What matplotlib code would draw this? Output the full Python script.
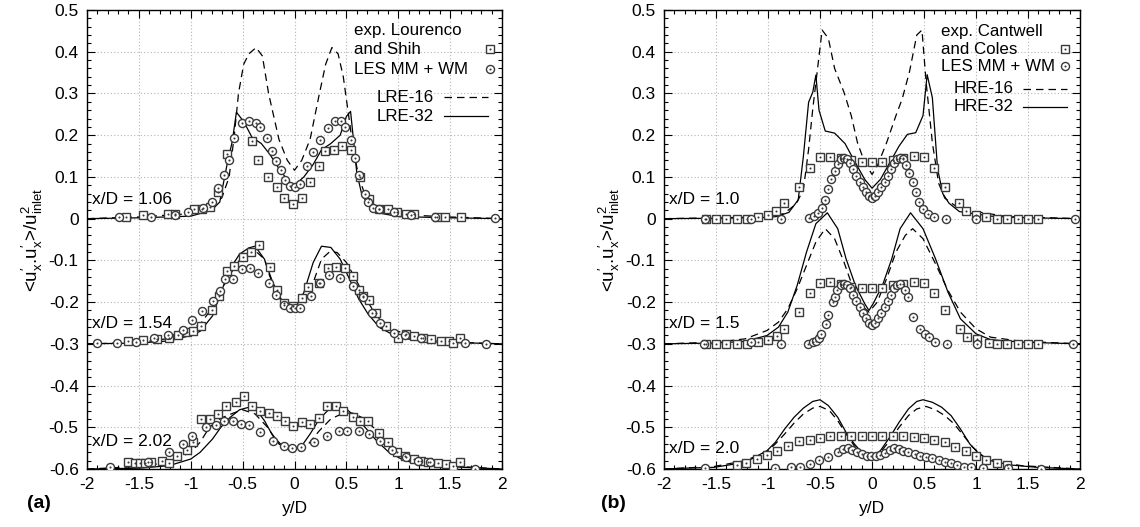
import matplotlib
matplotlib.use("Agg")
import matplotlib.pyplot as plt
from matplotlib.ticker import MultipleLocator, FuncFormatter

plt.rcParams['font.family'] = ['Liberation Sans', 'DejaVu Sans']
plt.rcParams['mathtext.fontset'] = 'custom'
plt.rcParams['mathtext.rm'] = 'Liberation Sans'
plt.rcParams['mathtext.it'] = 'Liberation Sans'
plt.rcParams['axes.unicode_minus'] = False

# vertical shift of each station (x/D) in both panels
offsets = [0.0, -0.3, -0.6]

# ---------------- panel (a) : LRE ----------------
a_stations = ["x/D = 1.06", "x/D = 1.54", "x/D = 2.02"]

# x/D = 1.06
a1_d_x = [-2.0, -1.5, -1.0, -0.85, -0.7, -0.63, -0.58, -0.54, -0.49, -0.44, -0.37, -0.31, -0.25, -0.15, -0.07, 0.0,
          0.07, 0.15, 0.24, 0.3, 0.36, 0.42, 0.47, 0.52, 0.57, 0.62, 0.68, 0.76, 0.85, 1.0, 1.5, 2.0]
a1_d_y = [0.0, 0.004, 0.012, 0.02, 0.05, 0.1, 0.2, 0.3, 0.37, 0.395, 0.41, 0.39, 0.3, 0.19, 0.14, 0.116,
          0.14, 0.19, 0.3, 0.37, 0.41, 0.395, 0.34, 0.25, 0.16, 0.1, 0.056, 0.032, 0.018, 0.01, 0.004, 0.0]
a1_s_x = [-2.0, -1.5, -1.0, -0.8, -0.72, -0.65, -0.6, -0.56, -0.49, -0.41, -0.32, -0.24, -0.15, -0.06, 0.0,
          0.09, 0.18, 0.26, 0.35, 0.44, 0.5, 0.54, 0.57, 0.6, 0.65, 0.74, 0.85, 1.0, 1.5, 2.0]
a1_s_y = [0.0, 0.002, 0.006, 0.02, 0.04, 0.13, 0.185, 0.255, 0.233, 0.195, 0.18, 0.155, 0.12, 0.09, 0.08,
          0.1, 0.13, 0.165, 0.18, 0.2, 0.245, 0.257, 0.185, 0.11, 0.056, 0.026, 0.012, 0.005, 0.002, 0.0]
a1_e_x = [-1.62, -1.46, -1.22, -1.15, -0.97, -0.89, -0.81, -0.74, -0.65, -0.41, -0.35, -0.26, -0.17, -0.10, -0.01,
          0.07, 0.15, 0.24, 0.29, 0.38, 0.46, 0.54, 0.63, 0.72, 0.81, 0.90, 0.99, 1.07, 1.15, 1.37, 1.45, 1.6]
a1_e_y = [0.004, 0.008, 0.01, 0.01, 0.022, 0.024, 0.028, 0.064, 0.154, 0.185, 0.14, 0.10, 0.076, 0.05, 0.036,
          0.05, 0.088, 0.125, 0.162, 0.165, 0.173, 0.165, 0.10, 0.048, 0.024, 0.022, 0.016, 0.012, 0.01, 0.004, 0.005, 0.004]
a1_l_x = [-1.69, -1.38, -1.15, -1.03, -0.88, -0.80, -0.74, -0.68, -0.63, -0.58, -0.51, -0.44, -0.37, -0.33, -0.27,
          -0.22, -0.18, -0.13, -0.09, -0.04, 0.0, 0.05, 0.12, 0.18, 0.25, 0.32, 0.39, 0.45, 0.49, 0.54, 0.58, 0.62,
          0.68, 0.71, 0.76, 0.81, 0.96, 1.12, 1.35, 1.93]
a1_l_y = [0.004, 0.004, 0.008, 0.016, 0.026, 0.04, 0.074, 0.104, 0.14, 0.194, 0.23, 0.234, 0.23, 0.219, 0.193,
          0.162, 0.137, 0.116, 0.092, 0.079, 0.076, 0.084, 0.125, 0.16, 0.189, 0.217, 0.233, 0.233, 0.22, 0.189, 0.145, 0.104,
          0.06, 0.04, 0.026, 0.022, 0.016, 0.008, 0.005, 0.002]

# x/D = 1.54
a2_d_x = [-2.0, -1.5, -1.21, -1.06, -0.91, -0.79, -0.71, -0.62, -0.53, -0.44, -0.37, -0.29, -0.24, -0.15, -0.06, 0.0,
          0.09, 0.18, 0.26, 0.34, 0.41, 0.5, 0.59, 0.68, 0.79, 0.91, 1.15, 1.5, 2.0]
a2_d_y = [0.0, 0.003, 0.013, 0.027, 0.047, 0.087, 0.127, 0.167, 0.2, 0.219, 0.221, 0.203, 0.163, 0.111, 0.083, 0.075,
          0.091, 0.147, 0.203, 0.221, 0.219, 0.195, 0.155, 0.111, 0.067, 0.039, 0.015, 0.004, 0.0]
a2_s_x = [-2.0, -1.5, -1.21, -1.0, -0.91, -0.79, -0.71, -0.62, -0.53, -0.44, -0.38, -0.29, -0.21, -0.12, -0.04, 0.0,
          0.09, 0.18, 0.26, 0.35, 0.44, 0.53, 0.62, 0.71, 0.82, 1.0, 1.29, 2.0]
a2_s_y = [0.0, 0.002, 0.007, 0.02, 0.03, 0.067, 0.123, 0.18, 0.215, 0.23, 0.234, 0.203, 0.147, 0.103, 0.087, 0.083,
          0.123, 0.195, 0.234, 0.231, 0.203, 0.155, 0.107, 0.071, 0.039, 0.015, 0.005, 0.0]
a2_e_x = [-1.60, -1.46, -1.33, -1.21, -1.12, -1.04, -0.98, -0.90, -0.80, -0.73, -0.65, -0.58, -0.50, -0.42, -0.34,
          -0.24, -0.17, -0.10, -0.01, 0.07, 0.13, 0.24, 0.32, 0.40, 0.49, 0.56, 0.62, 0.66, 0.72, 0.79, 0.88, 1.0,
          1.07, 1.15, 1.24, 1.32, 1.41, 1.49, 1.53, 1.59]
a2_e_y = [0.007, 0.009, 0.011, 0.015, 0.021, 0.029, 0.031, 0.043, 0.081, 0.115, 0.175, 0.186, 0.209, 0.219, 0.238,
          0.185, 0.129, 0.097, 0.09, 0.109, 0.137, 0.147, 0.182, 0.183, 0.182, 0.162, 0.13, 0.114, 0.106, 0.075, 0.043, 0.014,
          0.023, 0.019, 0.015, 0.011, 0.007, 0.006, 0.003, 0.015]
a2_l_x = [-1.90, -1.71, -1.53, -1.35, -1.22, -1.07, -0.99, -0.89, -0.79, -0.72, -0.67, -0.59, -0.51, -0.43, -0.35,
          -0.25, -0.18, -0.10, -0.04, 0.0, 0.05, 0.16, 0.25, 0.33, 0.44, 0.56, 0.66, 0.75, 0.82, 0.96, 1.06, 1.22, 1.64, 1.85]
a2_l_y = [0.002, 0.002, 0.005, 0.013, 0.021, 0.033, 0.058, 0.079, 0.103, 0.126, 0.155, 0.155, 0.179, 0.181, 0.17,
          0.145, 0.117, 0.094, 0.086, 0.087, 0.085, 0.115, 0.147, 0.165, 0.158, 0.139, 0.113, 0.074, 0.05, 0.027, 0.022, 0.015, 0.003, 0.0]

# x/D = 2.02
a3_d_x = [-2.0, -1.5, -1.21, -1.0, -0.91, -0.82, -0.71, -0.59, -0.5, -0.38, -0.26, -0.15, -0.03, 0.03,
          0.12, 0.24, 0.35, 0.47, 0.56, 0.68, 0.79, 0.94, 1.09, 1.29, 1.59, 2.0]
a3_d_y = [0.0, 0.006, 0.016, 0.04, 0.064, 0.1, 0.122, 0.134, 0.142, 0.132, 0.1, 0.06, 0.042, 0.04,
          0.056, 0.092, 0.12, 0.134, 0.134, 0.12, 0.092, 0.052, 0.028, 0.014, 0.006, 0.0]
a3_s_x = [-2.0, -1.5, -1.21, -1.0, -0.91, -0.79, -0.71, -0.62, -0.53, -0.44, -0.38, -0.29, -0.21, -0.12, -0.03,
          0.06, 0.15, 0.24, 0.32, 0.41, 0.5, 0.59, 0.68, 0.79, 0.91, 1.06, 1.29, 2.0]
a3_s_y = [0.0, 0.002, 0.008, 0.024, 0.04, 0.072, 0.1, 0.124, 0.142, 0.148, 0.146, 0.116, 0.08, 0.056, 0.046,
          0.052, 0.084, 0.12, 0.14, 0.148, 0.144, 0.124, 0.1, 0.068, 0.04, 0.02, 0.008, 0.0]
a3_e_x = [-1.60, -1.54, -1.49, -1.44, -1.38, -1.28, -1.21, -1.13, -1.04, -0.98, -0.90, -0.81, -0.74, -0.66, -0.56,
          -0.49, -0.41, -0.33, -0.25, -0.17, -0.09, -0.01, 0.07, 0.15, 0.24, 0.31, 0.40, 0.47, 0.56, 0.63, 0.71, 0.81,
          0.90, 0.99, 1.06, 1.15, 1.22, 1.29, 1.38, 1.46, 1.53, 1.59]
a3_e_y = [0.016, 0.014, 0.014, 0.014, 0.016, 0.02, 0.014, 0.032, 0.046, 0.064, 0.12, 0.12, 0.132, 0.15, 0.16,
          0.174, 0.15, 0.138, 0.134, 0.126, 0.114, 0.104, 0.112, 0.108, 0.122, 0.15, 0.152, 0.138, 0.124, 0.114, 0.116, 0.086,
          0.064, 0.04, 0.032, 0.024, 0.02, 0.018, 0.014, 0.012, 0.008, 0.018]
a3_l_x = [-1.78, -1.41, -1.21, -1.07, -0.99, -0.85, -0.76, -0.68, -0.59, -0.52, -0.44, -0.33, -0.21, -0.10, -0.02,
          0.06, 0.19, 0.31, 0.43, 0.51, 0.62, 0.72, 0.82, 0.94, 1.07, 1.19, 1.31, 1.74]
a3_l_y = [0.006, 0.016, 0.04, 0.06, 0.078, 0.1, 0.106, 0.114, 0.114, 0.108, 0.106, 0.088, 0.068, 0.056, 0.05,
          0.052, 0.064, 0.08, 0.092, 0.092, 0.092, 0.084, 0.068, 0.046, 0.03, 0.02, 0.016, 0.0]

# ---------------- panel (b) : HRE ----------------
b_stations = ["x/D = 1.0", "x/D = 1.5", "x/D = 2.0"]

# x/D = 1.0
b1_d_x = [-2.0, -1.5, -1.0, -0.85, -0.73, -0.66, -0.61, -0.57, -0.52, -0.48, -0.42, -0.36, -0.27, -0.2, -0.14, -0.07, 0.0,
          0.05, 0.14, 0.23, 0.29, 0.36, 0.43, 0.48, 0.52, 0.58, 0.64, 0.7, 0.81, 1.0, 1.3, 2.0]
b1_d_y = [0.0, 0.002, 0.004, 0.012, 0.035, 0.07, 0.166, 0.263, 0.368, 0.452, 0.432, 0.36, 0.303, 0.247, 0.182, 0.134, 0.106,
          0.126, 0.182, 0.247, 0.287, 0.352, 0.44, 0.452, 0.327, 0.182, 0.085, 0.049, 0.029, 0.017, 0.005, 0.0]
b1_s_x = [-2.0, -1.5, -1.0, -0.92, -0.8, -0.71, -0.66, -0.61, -0.57, -0.54, -0.51, -0.45, -0.36, -0.26, -0.16, -0.07, 0.0,
          0.08, 0.17, 0.26, 0.34, 0.42, 0.49, 0.53, 0.58, 0.63, 0.68, 0.74, 0.84, 1.14, 1.5, 2.0]
b1_s_y = [0.0, 0.001, 0.003, 0.005, 0.015, 0.045, 0.15, 0.279, 0.303, 0.344, 0.26, 0.21, 0.205, 0.18, 0.134, 0.094, 0.073,
          0.094, 0.134, 0.174, 0.202, 0.206, 0.247, 0.345, 0.29, 0.12, 0.06, 0.037, 0.017, 0.006, 0.002, 0.0]
b1_e_x = [-1.6, -1.5, -1.4, -1.3, -1.2, -1.1, -1.0, -0.92, -0.85, -0.7, -0.6, -0.5, -0.4, -0.3, -0.2, -0.1, 0.0,
          0.1, 0.2, 0.3, 0.4, 0.5, 0.6, 0.7, 0.84, 0.9, 1.0, 1.1, 1.2, 1.3, 1.4, 1.5, 1.6]
b1_e_y = [0.0, 0.0, 0.0, 0.0, 0.0, 0.004, 0.008, 0.018, 0.038, 0.077, 0.122, 0.147, 0.148, 0.145, 0.14, 0.135, 0.135,
          0.135, 0.14, 0.145, 0.15, 0.148, 0.122, 0.077, 0.037, 0.019, 0.009, 0.004, 0.0, 0.0, 0.0, 0.0, 0.0]
b1_l_x = [-1.61, -1.16, -0.88, -0.61, -0.56, -0.52, -0.48, -0.45, -0.42, -0.39, -0.36, -0.33, -0.3, -0.27, -0.24,
          -0.21, -0.18, -0.15, -0.12, -0.09, -0.06, -0.03, 0.0, 0.03, 0.06, 0.09, 0.12, 0.15, 0.18, 0.21, 0.24, 0.27,
          0.3, 0.33, 0.36, 0.39, 0.42, 0.45, 0.49, 0.54, 0.6, 0.71, 1.0, 1.95]
b1_l_y = [0.0, 0.0, 0.0, 0.002, 0.006, 0.013, 0.025, 0.045, 0.07, 0.095, 0.115, 0.132, 0.142, 0.145, 0.143,
          0.133, 0.118, 0.103, 0.088, 0.075, 0.063, 0.055, 0.05, 0.055, 0.063, 0.075, 0.088, 0.103, 0.118, 0.133, 0.143, 0.145,
          0.142, 0.128, 0.11, 0.088, 0.064, 0.04, 0.024, 0.012, 0.004, 0.0, 0.0, 0.0]

# x/D = 1.5
b2_d_x = [-2.0, -1.5, -1.22, -1.01, -0.9, -0.81, -0.72, -0.63, -0.54, -0.45, -0.36, -0.27, -0.18, -0.1, -0.03,
          0.05, 0.14, 0.23, 0.32, 0.39, 0.49, 0.61, 0.73, 0.85, 1.0, 1.14, 1.44, 2.0]
b2_d_y = [0.0, 0.004, 0.012, 0.032, 0.052, 0.084, 0.132, 0.188, 0.244, 0.276, 0.252, 0.196, 0.132, 0.092, 0.076,
          0.1, 0.156, 0.22, 0.26, 0.276, 0.252, 0.192, 0.128, 0.076, 0.036, 0.016, 0.006, 0.0]
b2_s_x = [-2.0, -1.5, -1.22, -1.01, -0.9, -0.81, -0.72, -0.63, -0.54, -0.43, -0.33, -0.25, -0.16, -0.07, -0.03,
          0.01, 0.1, 0.19, 0.27, 0.37, 0.49, 0.61, 0.73, 0.85, 1.0, 1.14, 1.44, 2.0]
b2_s_y = [0.0, 0.002, 0.006, 0.02, 0.04, 0.076, 0.14, 0.22, 0.288, 0.314, 0.276, 0.204, 0.14, 0.096, 0.08,
          0.096, 0.14, 0.204, 0.276, 0.314, 0.276, 0.204, 0.124, 0.06, 0.024, 0.01, 0.004, 0.0]
b2_e_x = [-1.6, -1.5, -1.4, -1.3, -1.2, -1.1, -1.0, -0.91, -0.85, -0.7, -0.6, -0.5, -0.4, -0.3, -0.2, -0.1, 0.0,
          0.1, 0.2, 0.3, 0.4, 0.5, 0.6, 0.7, 0.85, 0.91, 1.01, 1.12, 1.2, 1.3, 1.4, 1.5, 1.6]
b2_e_y = [0.0, 0.0, 0.0, 0.0, 0.0, 0.004, 0.01, 0.018, 0.036, 0.076, 0.122, 0.146, 0.148, 0.144, 0.136, 0.134, 0.134,
          0.134, 0.142, 0.144, 0.148, 0.146, 0.122, 0.08, 0.036, 0.016, 0.012, 0.002, 0.0, 0.0, 0.0, 0.0, 0.0]
b2_l_x = [-1.62, -1.16, -0.88, -0.62, -0.57, -0.54, -0.51, -0.49, -0.44, -0.42, -0.38, -0.36, -0.34, -0.3, -0.27,
          -0.24, -0.21, -0.18, -0.15, -0.12, -0.09, -0.06, -0.03, 0.0, 0.03, 0.06, 0.09, 0.12, 0.15, 0.18, 0.21, 0.24,
          0.27, 0.32, 0.35, 0.39, 0.46, 0.51, 0.55, 0.61, 0.72, 1.01, 1.93]
b2_l_y = [0.0, 0.004, 0.0, 0.0, 0.004, 0.008, 0.014, 0.024, 0.048, 0.07, 0.1, 0.112, 0.128, 0.14, 0.144,
          0.142, 0.134, 0.118, 0.102, 0.088, 0.074, 0.062, 0.05, 0.044, 0.05, 0.062, 0.074, 0.088, 0.102, 0.118, 0.134, 0.142,
          0.144, 0.128, 0.112, 0.064, 0.036, 0.024, 0.016, 0.004, 0.0, 0.0, 0.0]

# x/D = 2.0
b3_d_x = [-2.0, -1.52, -1.22, -1.01, -0.93, -0.84, -0.75, -0.66, -0.57, -0.5, -0.41, -0.33, -0.25, -0.16, -0.07, 0.0,
          0.08, 0.17, 0.26, 0.35, 0.43, 0.52, 0.61, 0.7, 0.79, 0.88, 0.97, 1.08, 1.23, 1.44, 2.0]
b3_d_y = [0.0, 0.006, 0.02, 0.042, 0.06, 0.084, 0.11, 0.132, 0.146, 0.15, 0.14, 0.116, 0.084, 0.052, 0.036, 0.032,
          0.04, 0.068, 0.1, 0.128, 0.144, 0.15, 0.142, 0.128, 0.108, 0.08, 0.052, 0.028, 0.016, 0.008, 0.0]
b3_s_x = [-2.0, -1.81, -1.52, -1.22, -1.01, -0.93, -0.84, -0.75, -0.66, -0.57, -0.5, -0.42, -0.33, -0.25, -0.17, -0.1,
          -0.04, 0.01, 0.08, 0.17, 0.26, 0.35, 0.43, 0.49, 0.58, 0.67, 0.76, 0.85, 0.94, 1.03, 1.14, 1.32, 1.59, 2.0]
b3_s_y = [0.0, 0.002, 0.004, 0.016, 0.044, 0.064, 0.096, 0.124, 0.146, 0.162, 0.166, 0.152, 0.124, 0.088, 0.06, 0.04,
          0.032, 0.032, 0.044, 0.076, 0.112, 0.144, 0.162, 0.166, 0.16, 0.148, 0.128, 0.096, 0.06, 0.036, 0.02, 0.01, 0.004, 0.0]
b3_e_x = [-1.3, -1.21, -1.11, -1.01, -0.91, -0.81, -0.7, -0.6, -0.5, -0.4, -0.3, -0.2, -0.1, 0.0, 0.1, 0.2, 0.3,
          0.4, 0.5, 0.6, 0.7, 0.8, 0.9, 1.0, 1.1, 1.2, 1.3]
b3_e_y = [0.01, 0.014, 0.024, 0.034, 0.044, 0.054, 0.066, 0.07, 0.074, 0.078, 0.078, 0.078, 0.078, 0.078, 0.078, 0.078, 0.078,
          0.076, 0.074, 0.07, 0.064, 0.052, 0.044, 0.032, 0.022, 0.014, 0.01]
b3_l_x = [-1.61, -0.93, -0.78, -0.69, -0.60, -0.51, -0.42, -0.33, -0.28, -0.23, -0.19, -0.14, -0.10, -0.05, -0.01,
          0.04, 0.08, 0.12, 0.17, 0.21, 0.26, 0.30, 0.35, 0.41, 0.46, 0.52, 0.58, 0.64, 0.70, 0.76, 0.82, 0.88, 0.95,
          1.07, 1.31, 1.62]
b3_l_y = [0.002, 0.002, 0.004, 0.006, 0.012, 0.022, 0.03, 0.042, 0.048, 0.05, 0.046, 0.04, 0.036, 0.032, 0.031,
          0.032, 0.034, 0.038, 0.046, 0.05, 0.048, 0.044, 0.04, 0.036, 0.032, 0.03, 0.026, 0.022, 0.018, 0.014, 0.01, 0.006, 0.004,
          0.002, 0.002, 0.0]

a_data = [(a1_d_x, a1_d_y, a1_s_x, a1_s_y, a1_e_x, a1_e_y, a1_l_x, a1_l_y),
          (a2_d_x, a2_d_y, a2_s_x, a2_s_y, a2_e_x, a2_e_y, a2_l_x, a2_l_y),
          (a3_d_x, a3_d_y, a3_s_x, a3_s_y, a3_e_x, a3_e_y, a3_l_x, a3_l_y)]
b_data = [(b1_d_x, b1_d_y, b1_s_x, b1_s_y, b1_e_x, b1_e_y, b1_l_x, b1_l_y),
          (b2_d_x, b2_d_y, b2_s_x, b2_s_y, b2_e_x, b2_e_y, b2_l_x, b2_l_y),
          (b3_d_x, b3_d_y, b3_s_x, b3_s_y, b3_e_x, b3_e_y, b3_l_x, b3_l_y)]

FS = 12.5      # ticks, station labels
LFS = 12.2     # key
MC = '#3a3a3a'
DASH = (0, (6, 4))


def shift(vals, off):
    return [v + off for v in vals]


def points(ax, x, y, marker, **kw):
    ax.plot(x, y, ls='none', marker=marker, ms=5.8, mfc='white', mec=MC, mew=1.0, zorder=4, **kw)
    ax.plot(x, y, ls='none', marker='o', ms=1.5, mfc=MC, mec='none', zorder=5, **kw)


def fmt(v, pos):
    if abs(v) < 1e-9:
        return '0'
    return '%g' % round(v, 2)


def draw_key(ax, exp_lines, line_names, txt_x, rows, mark_x, txt2_x, rows2, dash_x):
    # gnuplot-like key: left-aligned text, sample on the right
    tr = ax.transAxes
    for s, y in zip(exp_lines, rows):
        ax.text(txt_x, y, s, transform=tr, fontsize=LFS, ha='left', va='center', zorder=7)
    points(ax, [mark_x], [rows[1]], 's', transform=tr, clip_on=False)
    points(ax, [mark_x], [rows[2]], 'o', transform=tr, clip_on=False)
    for s, y, ls in zip(line_names, rows2, [DASH, '-']):
        ax.text(txt2_x, y, s, transform=tr, fontsize=LFS, ha='left', va='center', zorder=7)
        ax.plot(dash_x, [y, y], transform=tr, color='black', lw=0.9, ls=ls, zorder=7)


def draw_panel(ax, data, stations, lab_y):
    for (dx, dy, sx, sy, ex, ey, lx, ly), off, name, ty in zip(data, offsets, stations, lab_y):
        ax.plot(dx, shift(dy, off), color='black', lw=0.9, ls=DASH, zorder=3)
        ax.plot(sx, shift(sy, off), color='black', lw=0.9, zorder=3)
        points(ax, ex, shift(ey, off), 's')
        points(ax, lx, shift(ly, off), 'o')
        ax.text(-1.955, ty, name, fontsize=FS, ha='left', va='center', zorder=6)

    ax.set_xlim(-2, 2)
    ax.set_ylim(-0.6, 0.5)
    ax.xaxis.set_major_locator(MultipleLocator(0.5))
    ax.xaxis.set_minor_locator(MultipleLocator(0.1))
    ax.yaxis.set_major_locator(MultipleLocator(0.1))
    ax.yaxis.set_minor_locator(MultipleLocator(0.02))
    ax.xaxis.set_major_formatter(FuncFormatter(fmt))
    ax.yaxis.set_major_formatter(FuncFormatter(fmt))
    ax.tick_params(which='both', direction='in', top=True, right=True, labelsize=FS, width=0.8)
    ax.tick_params(which='major', length=6, pad=6)
    ax.tick_params(which='minor', length=3)
    ax.grid(True, which='major', color='#b5b5b5', ls=(0, (1, 2)), lw=0.8)
    ax.set_axisbelow(True)
    for sp in ax.spines.values():
        sp.set_linewidth(1.0)

    ax.set_xlabel('y/D', fontsize=FS, labelpad=6)
    ax.set_ylabel(r"<u$_x^{\prime}$.u$_x^{\prime}$>/u$_{\mathrm{inlet}}^2$", fontsize=13.5)
    ax.yaxis.set_label_coords(-0.1, 0.5)


fig = plt.figure(figsize=(11.4, 5.27), dpi=100)
ax_a = fig.add_axes([0.0763, 0.110, 0.3641, 0.871])
ax_b = fig.add_axes([0.5825, 0.110, 0.3649, 0.871])

draw_panel(ax_a, a_data, a_stations, [0.046, -0.252, -0.534])
draw_key(ax_a, ['exp. Lourenco', 'and Shih', 'LES MM + WM'], ['LRE-16', 'LRE-32'],
         0.643, [0.956, 0.915, 0.871], 0.971, 0.699, [0.810, 0.769], [0.860, 0.966])

draw_panel(ax_b, b_data, b_stations, [0.046, -0.252, -0.55])
draw_key(ax_b, ['exp. Cantwell', 'and Coles', 'LES MM + WM'], ['HRE-16', 'HRE-32'],
         0.666, [0.953, 0.915, 0.877], 0.964, 0.695, [0.828, 0.789], [0.863, 0.969])

fig.text(0.024, 0.045, '(a)', fontsize=14, fontweight='bold', ha='left', va='center')
fig.text(0.527, 0.045, '(b)', fontsize=14, fontweight='bold', ha='left', va='center')

fig.savefig('out.png', dpi=100)
